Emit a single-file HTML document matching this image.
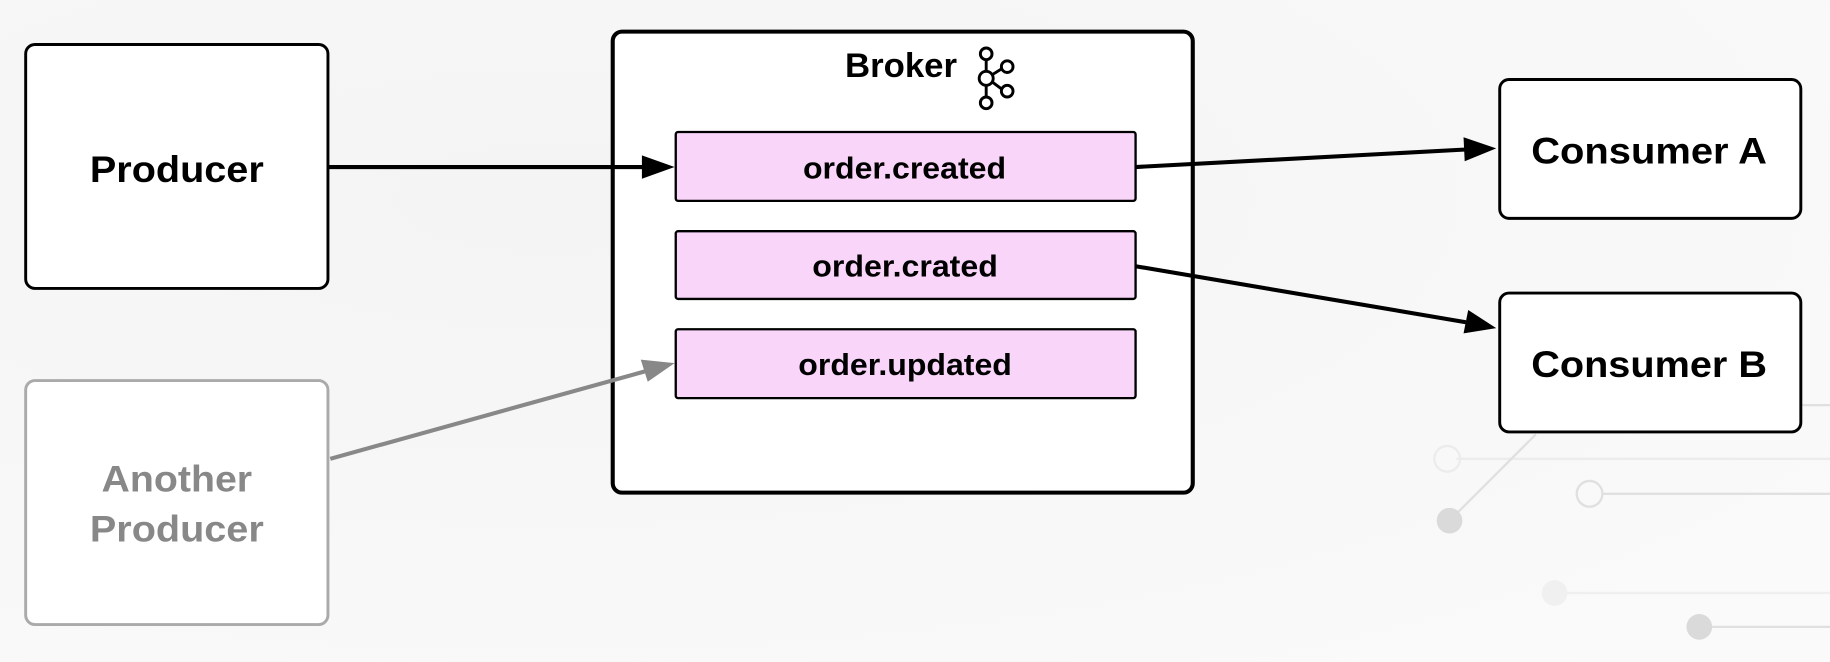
<!DOCTYPE html>
<html><head><style>html,body{margin:0;padding:0;background:#f6f6f6}svg{display:block}</style></head>
<body>
<svg width="1830" height="662" viewBox="0 0 1568 567" xmlns="http://www.w3.org/2000/svg" font-family="Liberation Sans, sans-serif" font-weight="bold">
<defs>
<radialGradient id="bg" cx="0.3" cy="0.3" r="0.9"><stop offset="0" stop-color="#f4f4f4"/><stop offset="1" stop-color="#fafafa"/></radialGradient>
</defs>
<rect width="1568" height="567" fill="url(#bg)"/>
<g stroke="#e0e0e0" stroke-width="2" fill="none">
<line x1="1248" y1="393" x2="1568" y2="393" stroke="#ececec"/>
<circle cx="1240" cy="393" r="11" stroke="#ececec"/>
<line x1="1242" y1="446" x2="1316" y2="372"/>
<line x1="1373" y1="423" x2="1568" y2="423"/>
<circle cx="1362" cy="423" r="11"/>
<line x1="1340" y1="508" x2="1568" y2="508" stroke="#efefef"/>
<line x1="1462" y1="537" x2="1568" y2="537"/>
<line x1="1543" y1="347" x2="1568" y2="347"/>
</g>
<circle cx="1242" cy="446" r="11" fill="#dadada"/>
<circle cx="1332" cy="508" r="11" fill="#f0f0f0"/>
<circle cx="1456" cy="537" r="11" fill="#dadada"/>
<rect x="22" y="38" width="259" height="209" rx="8" fill="#fff" stroke="#000" stroke-width="2.5"/>
<text x="77" y="156" font-size="32" textLength="149" lengthAdjust="spacingAndGlyphs">Producer</text>
<rect x="22" y="326" width="259" height="209" rx="8" fill="#fff" stroke="#aaa" stroke-width="2.5"/>
<text x="87" y="421" font-size="32" fill="#888" textLength="129" lengthAdjust="spacingAndGlyphs">Another</text>
<text x="77" y="464" font-size="32" fill="#888" textLength="149" lengthAdjust="spacingAndGlyphs">Producer</text>
<rect x="525" y="27" width="497" height="395" rx="8" fill="#fff" stroke="#000" stroke-width="3.5"/>
<text x="724" y="66" font-size="29" textLength="96" lengthAdjust="spacingAndGlyphs">Broker</text>
<g fill="none" stroke="#000" stroke-width="2.5">
<circle cx="845" cy="46" r="5"/><circle cx="845" cy="67" r="6"/><circle cx="845" cy="88" r="5"/>
<circle cx="863" cy="57" r="5"/><circle cx="863" cy="78" r="5"/>
<line x1="845" y1="51" x2="845" y2="61"/><line x1="845" y1="73" x2="845" y2="83"/>
<line x1="850" y1="64" x2="858" y2="59"/><line x1="850" y1="70" x2="858" y2="76"/>
</g>
<g stroke="#000" stroke-width="2" fill="#f8d5f9">
<rect x="579" y="113" width="394" height="59" rx="2"/>
<rect x="579" y="198" width="394" height="58" rx="2"/>
<rect x="579" y="282" width="394" height="59" rx="2"/>
</g>
<g font-size="26">
<text x="688" y="153" textLength="174" lengthAdjust="spacingAndGlyphs">order.created</text>
<text x="696" y="237" textLength="159" lengthAdjust="spacingAndGlyphs">order.crated</text>
<text x="684" y="321" textLength="183" lengthAdjust="spacingAndGlyphs">order.updated</text>
</g>
<rect x="1285" y="68" width="258" height="119" rx="8" fill="#fff" stroke="#000" stroke-width="2.5"/>
<text x="1312" y="140" font-size="32" textLength="202" lengthAdjust="spacingAndGlyphs">Consumer A</text>
<rect x="1285" y="251" width="258" height="119" rx="8" fill="#fff" stroke="#000" stroke-width="2.5"/>
<text x="1312" y="323" font-size="32" textLength="202" lengthAdjust="spacingAndGlyphs">Consumer B</text>
<g stroke-width="3.5">
<line x1="281" y1="143" x2="552" y2="143" stroke="#000"/>
<polygon points="578,143 550,133 550,153" fill="#000"/>
<line x1="973" y1="143" x2="1256" y2="128" stroke="#000"/>
<polygon points="1282,127 1254,117.5 1255,138" fill="#000"/>
<line x1="973" y1="228" x2="1256" y2="276" stroke="#000"/>
<polygon points="1282,281 1258,265.5 1254,285.5" fill="#000"/>
<line x1="283" y1="393" x2="553" y2="318" stroke="#888"/>
<polygon points="578,311 549,308 555,327" fill="#888"/>
</g>
</svg>
</body></html>
